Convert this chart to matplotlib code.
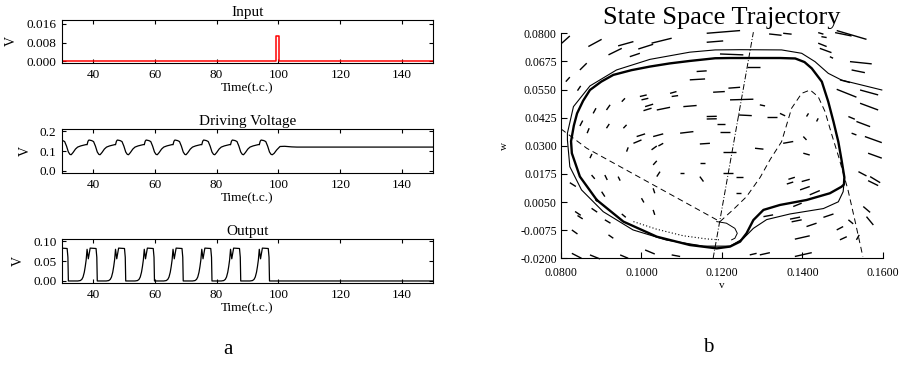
import numpy as np
import matplotlib
matplotlib.use("Agg")
import matplotlib.pyplot as plt
from matplotlib.collections import LineCollection
from matplotlib.ticker import FormatStrFormatter

plt.rcParams['font.family'] = ['Liberation Serif', 'DejaVu Serif']
plt.rcParams['axes.unicode_minus'] = False

# ---------------- panel a ----------------
# input pulse
pulse_t = [30, 99.3, 99.3, 100.3, 100.3, 150]
pulse_v = [0, 0, 0.0108, 0.0108, 0, 0]

# time at which each output spike falls back to zero
spike_end = [32.05, 41.4, 50.6, 59.9, 69.2, 78.5, 87.8, 97.1]

# one cycle of the driving voltage, time relative to spike end
drive_rel_t = [-3.3, -3.0, -2.7, -1.8, -1.2, -0.6, 0.0, 0.5, 0.9, 1.5, 2.3, 3.0, 4.0, 5.0, 5.8]
drive_rel_v = [0.132, 0.150, 0.156, 0.153, 0.148, 0.125, 0.095, 0.083, 0.081,
               0.092, 0.110, 0.120, 0.126, 0.130, 0.133]
# after the last spike the voltage settles
drive_tail_t = [98.6, 99.4, 100.5, 102.0, 104.3, 106.0, 150.0]
drive_tail_v = [0.088, 0.105, 0.123, 0.124, 0.121, 0.120, 0.120]

# one output spike, time relative to spike end
out_rel_t = [-6.3, -5.5, -5.0, -4.6, -4.2, -3.9, -3.6, -3.3, -2.9, -2.3, -0.4, -0.15, 0.0]
out_rel_v = [0.0, 0.001, 0.004, 0.010, 0.022, 0.036, 0.053, 0.080, 0.056, 0.083, 0.082, 0.060, 0.0]

drive_t, drive_v = [], []
for k, d in enumerate(spike_end):
    for rt, rv in zip(drive_rel_t, drive_rel_v):
        if k == len(spike_end) - 1 and rt > 0.9:
            break
        drive_t.append(d + rt)
        drive_v.append(rv)
drive_t += drive_tail_t
drive_v += drive_tail_v

out_t, out_v = [], []
for d in spike_end:
    out_t += [d + rt for rt in out_rel_t]
    out_v += out_rel_v
out_t.append(150)
out_v.append(0.0)

# ---------------- panel b ----------------
cycle_v = [0.0889, 0.0847, 0.0827, 0.0825, 0.0832, 0.0840, 0.0855, 0.0872, 0.0900, 0.0930,
           0.0975, 0.1021, 0.1070, 0.1120, 0.1183, 0.1220, 0.1344, 0.1382, 0.1405, 0.1423,
           0.1448, 0.1464, 0.1477, 0.1489, 0.1497, 0.1504, 0.1503, 0.1497, 0.1468, 0.1410,
           0.1344, 0.1303, 0.1278, 0.1261, 0.1245, 0.1220, 0.1187, 0.1120, 0.1038, 0.0955, 0.0889]
cycle_w = [0.0059, 0.0163, 0.0267, 0.0320, 0.0390, 0.0444, 0.0500, 0.0548, 0.0585, 0.0615,
           0.0636, 0.0652, 0.0666, 0.0677, 0.0689, 0.0690, 0.0690, 0.0688, 0.0672, 0.0644,
           0.0585, 0.0496, 0.0407, 0.0318, 0.0237, 0.0160, 0.0128, 0.0118, 0.0089, 0.0059,
           0.0037, 0.0015, -0.0030, -0.0089, -0.0126, -0.0148, -0.0156, -0.0141, -0.0104, -0.0037, 0.0059]

outer_v = [0.1597, 0.1547, 0.1497, 0.1464, 0.1431, 0.1398, 0.1348, 0.1245, 0.1183, 0.1120,
           0.1021, 0.0938, 0.0872, 0.0831, 0.0816, 0.0816, 0.0822, 0.0851, 0.0905, 0.0979,
           0.1062, 0.1154, 0.1220, 0.1253, 0.1278, 0.1311, 0.1369, 0.1452, 0.1489, 0.1501, 0.1504]
outer_w = [0.0548, 0.0570, 0.0592, 0.0622, 0.0674, 0.0711, 0.0726, 0.0727, 0.0726, 0.0716,
           0.0684, 0.0637, 0.0566, 0.0474, 0.0356, 0.0326, 0.0207, 0.0104, 0.0007, -0.0074,
           -0.0119, -0.0146, -0.0146, -0.0112, -0.0067, -0.0028, -0.0003, 0.0021, 0.0051, 0.0096, 0.0150]

arc_v = [0.1187, 0.1211, 0.1232, 0.1238, 0.1232, 0.1224]
arc_w = [-0.0037, -0.0044, -0.0067, -0.0089, -0.0111, -0.0118]

dotted_v = [0.0980, 0.1038, 0.1104, 0.1162, 0.1195]
dotted_w = [-0.0037, -0.0071, -0.0100, -0.0114, -0.0118]

null1_v = [0.0800, 0.0864, 0.1195]
null1_w = [0.0375, 0.0289, -0.0037]

null2_v = [0.1195, 0.1230, 0.1261, 0.1295, 0.1320, 0.1348, 0.1373, 0.1398, 0.1419, 0.1439,
           0.1456, 0.1473, 0.1490, 0.1513, 0.1530, 0.1550]
null2_w = [-0.0037, 0.0020, 0.0074, 0.0160, 0.0240, 0.0318, 0.0467, 0.0533, 0.0548, 0.0518,
           0.0452, 0.0348, 0.0250, 0.0104, -0.0030, -0.0193]

wnull_v = [0.1178, 0.1278]
wnull_w = [-0.0200, 0.0805]

# direction field segments (start v, start w, end v, end w)
field_v0 = [
    .0802, .0868, .0918, .0942, .0971, .0992, .1025, .1162, .1162, .1317,
    .1352, .1439, .1447, .1485, .1481, .1518, .1439, .1443, .1468, .1522,
    .0847, .0812, .1195, .1261, .1137, .1120, .0841, .0996, .1000, .1071,
    .1075, .1178, .1216, .1493, .1485, .1543, .1543, .1514, .1534, .1555,
    .0880, .0913, .0951, .1009, .1005, .1038, .1104, .1220, .1240, .1162,
    .1162, .1294, .0847, .0865, .0913, .0955, .0988, .1029, .1096, .1187,
    .1195, .1311, .1344, .1410, .1435, .1522, .1402, .0980, .0872, .0963,
    .1025, .1042, .1145, .1203, .1282, .1352, .1402, .1563, .1029, .1145,
    .1038, .1096, .1203, .1236, .1365, .1361, .1398, .1394, .1418, .1539,
    .1568, .1563, .0822, .0876, .0909, .0942, .1000, .1029, .1145, .1236,
    .1377, .1551, .0835, .0841, .0876, .0909, .0918, .0951, .1029, .1303,
    .1369, .1373, .1381, .1410, .1452, .1485, .1559, .1534, .0827, .0872,
    .0947, .1009, .1075, .1269, .1294, .1381, .1493, .1514, .0827, .0901,
]
field_w0 = [
    .0756, .0741, .0704, .0744, .0696, .0730, .0756, .0800, .0760, .0797,
    .0800, .0803, .0785, .0812, .0803, .0674, .0756, .0733, .0696, .0637,
    .0637, .0585, .0708, .0652, .0630, .0593, .0545, .0519, .0504, .0533,
    .0519, .0538, .0556, .0593, .0551, .0548, .0489, .0430, .0408, .0341,
    .0444, .0459, .0496, .0474, .0456, .0459, .0474, .0504, .0437, .0430,
    .0419, .0482, .0388, .0356, .0378, .0378, .0341, .0341, .0356, .0397,
    .0363, .0430, .0444, .0430, .0408, .0356, .0341, .0311, .0245, .0274,
    .0282, .0299, .0308, .0274, .0289, .0311, .0267, .0267, .0215, .0222,
    .0163, .0178, .0178, .0160, .0151, .0130, .0141, .0104, .0082, .0185,
    .0163, .0145, .0136, .0170, .0170, .0163, .0067, .0111, .0163, .0089,
    .0030, .0030, .0008, -.0010, .0022, -.0029, -.0096, -.0003, .0015, -.0015,
    -.0026, -.0038, -.0115, -.0059, -.0018, -.0074, -.0015, -.0118, -.0178, -.0185,
    -.0185, -.0163, -.0185, -.0185, -.0185, -.0192, -.0118, -.0029, -.0074, .0096,
]
field_v1 = [
    .0822, .0901, .0951, .0980, .0996, .1029, .1075, .1245, .1203, .1348,
    .1373, .1452, .1460, .1559, .1522, .1572, .1460, .1472, .1476, .1555,
    .0864, .0822, .1253, .1294, .1162, .1158, .0849, .1013, .1017, .1087,
    .1091, .1207, .1245, .1518, .1534, .1588, .1588, .1530, .1568, .1597,
    .0887, .0922, .0959, .1029, .1025, .1071, .1137, .1278, .1274, .1187,
    .1187, .1307, .0854, .0870, .0920, .0963, .1009, .1054, .1129, .1207,
    .1220, .1336, .1357, .1415, .1439, .1534, .1410, .1000, .0877, .0967,
    .1038, .1054, .1170, .1236, .1303, .1377, .1418, .1597, .1038, .1158,
    .1046, .1106, .1228, .1253, .1381, .1377, .1418, .1418, .1443, .1559,
    .1593, .1588, .0837, .0884, .0915, .0947, .1006, .1033, .1154, .1246,
    .1398, .1568, .0849, .0854, .0890, .0923, .0930, .0961, .1033, .1327,
    .1394, .1398, .1418, .1435, .1477, .1501, .1576, .1541, .0851, .0897,
    .0967, .1033, .1096, .1286, .1319, .1423, .1510, .1526, .0841, .0909,
]
field_w1 = [
    .0788, .0773, .0733, .0763, .0711, .0751, .0778, .0812, .0766, .0791,
    .0796, .0796, .0781, .0773, .0788, .0664, .0741, .0714, .0689, .0625,
    .0667, .0605, .0704, .0652, .0633, .0597, .0566, .0526, .0511, .0541,
    .0523, .0541, .0560, .0581, .0516, .0526, .0459, .0418, .0385, .0314,
    .0467, .0482, .0511, .0485, .0467, .0471, .0479, .0507, .0434, .0431,
    .0420, .0477, .0412, .0378, .0397, .0393, .0353, .0353, .0363, .0397,
    .0363, .0430, .0433, .0444, .0422, .0348, .0326, .0326, .0264, .0293,
    .0299, .0311, .0311, .0274, .0285, .0319, .0259, .0245, .0233, .0222,
    .0185, .0178, .0178, .0160, .0160, .0139, .0151, .0119, .0101, .0166,
    .0136, .0123, .0119, .0153, .0148, .0145, .0048, .0089, .0141, .0089,
    .0045, .0004, -.0009, -.0025, .0005, -.0044, -.0111, -.0018, -.0007, -.0007,
    -.0017, -.0029, -.0100, -.0044, -.0003, -.0059, -.0052, -.0096, -.0200, -.0203,
    -.0200, -.0181, -.0192, -.0178, -.0175, -.0175, -.0104, -.0047, -.0092, .0074,
]

time_ticks = [40, 60, 80, 100, 120, 140]
v_ticks = [0.08, 0.10, 0.12, 0.14, 0.16]
w_ticks = [-0.02, -0.0075, 0.005, 0.0175, 0.03, 0.0425, 0.055, 0.0675, 0.08]

fig = plt.figure(figsize=(8.99, 3.66), dpi=100)


def style_time_axis(ax, title, ylim, yticks, yfmt):
    ax.set_xlim(30, 150)
    ax.set_ylim(*ylim)
    ax.set_xticks(time_ticks)
    ax.set_yticks(yticks)
    ax.yaxis.set_major_formatter(FormatStrFormatter(yfmt))
    ax.tick_params(direction='in', top=True, right=True, length=3, width=0.8,
                   labelsize=9.5, pad=4)
    ax.set_title(title, fontsize=11, pad=3)
    ax.set_xlabel('Time(t.c.)', fontsize=9.5, labelpad=1)
    ax.set_ylabel('V', fontsize=10, labelpad=6)
    for s in ax.spines.values():
        s.set_linewidth(0.8)


ax1 = fig.add_axes([0.069, 0.828, 0.4127, 0.1175])
ax1.plot(pulse_t, pulse_v, color='red', lw=1.1)
style_time_axis(ax1, 'Input', (-0.0007, 0.0177), [0.0, 0.008, 0.016], '%.3f')

ax2 = fig.add_axes([0.069, 0.5273, 0.4127, 0.1202])
ax2.plot(drive_t, drive_v, color='black', lw=0.9)
style_time_axis(ax2, 'Driving Voltage', (-0.012, 0.212), [0.0, 0.1, 0.2], '%.1f')

ax3 = fig.add_axes([0.069, 0.2268, 0.4127, 0.1202])
ax3.plot(out_t, out_v, color='black', lw=0.9)
style_time_axis(ax3, 'Output', (-0.0051, 0.106), [0.0, 0.05, 0.10], '%.2f')

axb = fig.add_axes([0.624, 0.2943, 0.3582, 0.6148])
segs = [[(a, b), (c, d)] for a, b, c, d in zip(field_v0, field_w0, field_v1, field_w1)]
axb.add_collection(LineCollection(segs, colors='black', linewidths=1.0, clip_on=False))
axb.plot(outer_v, outer_w, color='black', lw=0.8, clip_on=False)
axb.plot(cycle_v, cycle_w, color='black', lw=1.7, solid_joinstyle='round')
axb.plot(arc_v, arc_w, color='black', lw=0.7)
axb.plot(dotted_v, dotted_w, color='black', lw=0.8, ls=(0, (1, 2)))
axb.plot(null1_v, null1_w, color='black', lw=0.7, ls=(0, (6, 4)))
axb.plot(null2_v, null2_w, color='black', lw=0.7, ls=(0, (6, 4)))
axb.plot(wnull_v, wnull_w, color='black', lw=0.7, ls=(0, (6, 2, 1, 2)), clip_on=False)
axb.set_xlim(0.08, 0.16)
axb.set_ylim(-0.02, 0.08)
axb.spines['top'].set_visible(False)
axb.spines['right'].set_visible(False)
axb.set_xticks(v_ticks)
axb.set_yticks(w_ticks)
axb.xaxis.set_major_formatter(FormatStrFormatter('%.4f'))
axb.yaxis.set_major_formatter(FormatStrFormatter('%.4f'))
axb.tick_params(direction='in', length=4, width=0.8, labelsize=8.5)
axb.tick_params(axis='x', pad=6)
axb.tick_params(axis='y', pad=3)
axb.set_title('State Space Trajectory', fontsize=19, pad=7)
axb.set_xlabel('v', fontsize=8, labelpad=2)
axb.set_ylabel('w', fontsize=8, labelpad=8)

fig.text(0.2536, 0.045, 'a', fontsize=15, ha='center', va='center')
fig.text(0.7875, 0.05, 'b', fontsize=15, ha='center', va='center')

fig.savefig('out.png', dpi=100)
